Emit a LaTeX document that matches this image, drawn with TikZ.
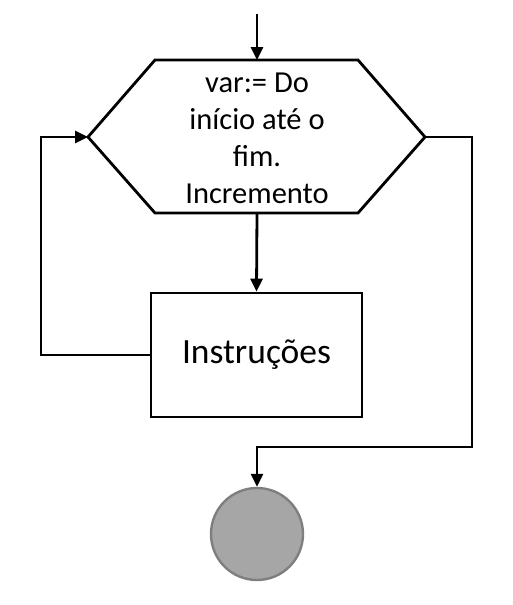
\documentclass[tikz,border=0pt]{standalone}
\usepackage{fontspec}
\setmainfont{Carlito}
\usetikzlibrary{arrows.meta,positioning}
\definecolor{fimfill}{HTML}{A6A6A6}
\definecolor{fimdraw}{HTML}{7F7F7F}
\tikzset{
    linha/.style={line width=2.8pt,-{Triangle[length=13pt,width=12pt]}},
    caixa/.style={draw,line width=2.8pt,minimum width=211pt,minimum height=124pt,font=\fontsize{35.5}{42}\selectfont},
    fim/.style={circle,draw=fimdraw,fill=fimfill,line width=2.4pt,minimum size=92pt,inner sep=0pt}
}
\begin{document}
\begin{tikzpicture}[x=1pt,y=-1pt]
    \useasboundingbox (0,0) rectangle (512,605);
    \coordinate (inicio) at (257,14);
    \coordinate (hexT) at (257,60);
    \coordinate (hexB) at (257,213);
    \coordinate (hexL) at (88,137);
    \coordinate (hexR) at (425,137);
    \draw[line width=2.8pt,line join=miter]
        (155,60) -- (358,60) -- (hexR) -- (358,213) -- (155,213) -- (hexL) -- cycle;
    \node[align=center,inner sep=0pt,font=\fontsize{30.5}{37}\selectfont] (para) at (257,138)
        {var:= Do\\início até o\\fim.\\Incremento};
    \node[caixa] (instr) at (256.5,355) {Instruções};
    \node[fim] (final) at (257,534) {};
    \draw[linha] (inicio) -- (hexT);
    \draw[linha] (hexB) -- (instr.north);
    \draw[linha] (instr.west) -- (41,355) |- (hexL);
    \draw[linha] (hexR) -- (472,137) |- (257,447) -- (final.north);
\end{tikzpicture}
\end{document}
